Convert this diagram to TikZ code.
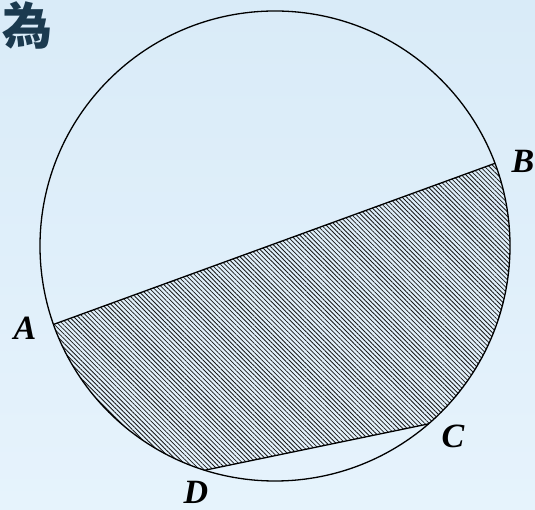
\documentclass[tikz,border=0pt]{standalone}
\usepackage{fontspec}
\setmainfont{Liberation Serif}
\newfontfamily\cjkfont{Noto Sans CJK TC}
\usepackage{xcolor}
\usetikzlibrary{calc,patterns.meta}
\definecolor{bgtop}{HTML}{D9EBF8}
\definecolor{bgbot}{HTML}{E6F3FC}
\definecolor{inkblue}{HTML}{1B3A4F}
\tikzset{
  ptlabel/.style={font=\fontsize{34}{36}\selectfont\bfseries\itshape},
  hatch/.style={pattern={Lines[angle=-45,distance=3.2pt,line width=0.8pt]},pattern color=black!90}
}

\begin{document}
\begin{tikzpicture}[x=1pt,y=1pt,line width=1.3pt]

% background
\shade[top color=bgtop, bottom color=bgbot] (0,0) rectangle (535,510);
\useasboundingbox (0,0) rectangle (535,510);

\node[font=\cjkfont\fontsize{50}{50}\selectfont\bfseries, text=inkblue] (wei) at (27,485) {為};

% circle and points on it
\coordinate (O) at (275,264);
\def\R{235}
\coordinate (A) at ($(O)+(199.5:\R)$);
\coordinate (B) at ($(O)+(20.6:\R)$);
\coordinate (C) at ($(O)+(-49.2:\R)$);
\coordinate (D) at ($(O)+(-107.4:\R)$);

% shaded part between the chords
\fill[hatch] (A) -- (B) arc[start angle=20.6, end angle=-49.2, radius=\R]
  -- (D) arc[start angle=-107.4, end angle=-160.5, radius=\R] -- cycle;

\draw (O) circle (\R);
\draw (A) -- (B);
\draw (C) -- (D);

\node[ptlabel] (lA) at (25,182) {A};
\node[ptlabel] (lB) at (523,349) {B};
\node[ptlabel] (lC) at (453,74) {C};
\node[ptlabel] (lD) at (196,18) {D};

\end{tikzpicture}
\end{document}
